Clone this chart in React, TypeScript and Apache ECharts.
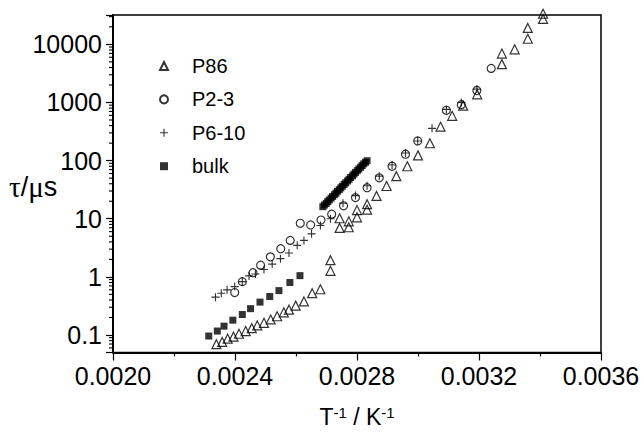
import React, { useEffect, useRef } from "react";
import * as echarts from "echarts";

// x = 1/T (K^-1), y = tau (µs)
const p86: number[][] = [
  [0.002339, 0.0695], [0.002358, 0.076], [0.002376, 0.0865], [0.002395, 0.0935],
  [0.002413, 0.105], [0.002435, 0.117], [0.002455, 0.131], [0.002473, 0.146],
  [0.002495, 0.162], [0.002517, 0.185], [0.002538, 0.21], [0.00256, 0.246],
  [0.002577, 0.273], [0.002599, 0.32], [0.002626, 0.378], [0.002653, 0.524],
  [0.00268, 0.612], [0.002713, 1.27], [0.002713, 1.94],
  [0.002743, 6.95], [0.002743, 10.2], [0.002773, 7.14], [0.002773, 9.03],
  [0.0028, 10.6], [0.0028, 14.1], [0.002833, 14.3], [0.002833, 17.8],
  [0.002864, 24.7], [0.002897, 36.6], [0.002929, 54], [0.002965, 80],
  [0.003, 123], [0.003039, 199], [0.003074, 383], [0.003112, 589],
  [0.003148, 883], [0.003194, 1384], [0.003275, 4570], [0.003275, 6950],
  [0.003317, 8220], [0.00336, 12500], [0.00336, 19200], [0.00341, 27400],
  [0.00341, 33600],
];

const p23: number[][] = [
  [0.002399, 0.538], [0.002424, 0.828], [0.002459, 1.18], [0.002484, 1.59],
  [0.002516, 2.21], [0.00255, 3.05], [0.002581, 4.24], [0.002614, 8.35],
  [0.002648, 7.82], [0.002682, 9.5], [0.002717, 12], [0.002756, 16.7],
  [0.002795, 23.1], [0.002833, 34.2], [0.002873, 50.6], [0.002915, 80],
  [0.002959, 129], [0.002999, 218], [0.003093, 734], [0.003142, 918],
  [0.003193, 1607], [0.00324, 3860],
];

const p610: number[][] = [
  [0.002336, 0.448], [0.002355, 0.524], [0.002374, 0.598], [0.002399, 0.681],
  [0.002424, 0.828], [0.002446, 1.04], [0.002467, 1.12], [0.002495, 1.34],
  [0.002522, 1.66], [0.002549, 2.06], [0.002577, 2.58], [0.002604, 3.49],
  [0.002626, 4.24], [0.002651, 5.5], [0.00268, 7.64], [0.002713, 10],
  [0.002754, 18.5], [0.002795, 25], [0.002833, 37], [0.002873, 54],
  [0.002915, 84], [0.002959, 135], [0.002999, 218], [0.003046, 359],
  [0.003093, 760], [0.003142, 1000], [0.003193, 1700],
];

const bulk: number[][] = [
  [0.002314, 0.096], [0.002342, 0.117], [0.002364, 0.142], [0.002393, 0.18],
  [0.002424, 0.225], [0.002451, 0.284], [0.002482, 0.368], [0.002514, 0.46],
  [0.002544, 0.58], [0.00258, 0.8], [0.002613, 1.05],
  [0.002688, 16.1], [0.002693, 17.2], [0.002699, 18.3], [0.002704, 19.7],
  [0.002709, 21.0], [0.002715, 22.6], [0.00272, 24.1], [0.002726, 25.9],
  [0.002731, 27.6], [0.002736, 29.7], [0.002742, 31.7], [0.002747, 34.0],
  [0.002752, 36.3], [0.002758, 39.0], [0.002763, 41.6], [0.002769, 44.7],
  [0.002774, 47.7], [0.002779, 51.2], [0.002785, 54.6], [0.00279, 58.6],
  [0.002795, 62.6], [0.002801, 67.1], [0.002806, 71.8], [0.002812, 76.9],
  [0.002817, 82.3], [0.002822, 88.1], [0.002828, 93.5], [0.002833, 99.5],
];

const seriesNames = ["P86", "P2-3", "P6-10", "bulk"];
const xMin = 0.002;
const xMax = 0.0036;
const xStep = 0.0004;
const yMin = 0.05;
const yMax = 32000;
const yMinorTicks: number[] = [
  0.06, 0.07, 0.08, 0.09,
  0.2, 0.3, 0.4, 0.5, 0.6, 0.7, 0.8, 0.9,
  2, 3, 4, 5, 6, 7, 8, 9,
  20, 30, 40, 50, 60, 70, 80, 90,
  200, 300, 400, 500, 600, 700, 800, 900,
  2000, 3000, 4000, 5000, 6000, 7000, 8000, 9000,
  20000, 30000,
];

const FONT = "'Liberation Sans', Arial, sans-serif";
const SERIF = "'Liberation Serif', 'DejaVu Serif', serif";
const PLUS = "path://M4.3,0H5.7V4.3H10V5.7H5.7V10H4.3V5.7H0V4.3H4.3Z";

export default function App() {
  const ref = useRef<HTMLDivElement>(null);
  useEffect(() => {
    if (!ref.current) return;
    const chart = echarts.init(ref.current, undefined, { renderer: "svg" });
    const hollow = { color: "rgba(0,0,0,0)", borderColor: "#000", borderWidth: 1.2 };
    chart.setOption({
      animation: false,
      backgroundColor: "#fff",
      grid: {
        left: 113, right: 43, top: 15, bottom: 78,
        show: true, borderColor: "#000", borderWidth: 1.5,
      },
      legend: {
        data: seriesNames,
        orient: "vertical",
        left: 154,
        top: 51,
        itemWidth: 8,
        itemHeight: 8,
        itemGap: 13.4,
        textStyle: {
          fontFamily: FONT, fontSize: 20, color: "#000",
          lineHeight: 20, padding: [0, 0, 0, 19],
        },
        selectedMode: false,
      },
      graphic: [
        {
          type: "text",
          left: 9,
          top: 172,
          style: {
            text: "{g|τ}/{g|μ}s",
            fontFamily: FONT,
            fontSize: 27,
            fill: "#000",
            rich: { g: { fontFamily: SERIF, fontSize: 29, fill: "#000" } },
          },
        },
      ],
      xAxis: {
        type: "value",
        min: xMin,
        max: xMax,
        interval: xStep,
        name: "T{sup|-1} / K{sup|-1}",
        nameLocation: "middle",
        nameGap: 52,
        nameTextStyle: {
          fontFamily: FONT, fontSize: 23, color: "#000",
          rich: {
            sup: { fontFamily: FONT, fontSize: 15, color: "#000", padding: [0, 0, 9, 0] },
          },
        },
        axisLine: { lineStyle: { color: "#000", width: 2 } },
        axisTick: { length: 8, lineStyle: { color: "#000", width: 1.2 } },
        minorTick: { show: true, splitNumber: 2, length: 4, lineStyle: { color: "#000", width: 1.2 } },
        axisLabel: {
          fontFamily: FONT, fontSize: 25, color: "#000", margin: 11,
          formatter: (v: number) => v.toFixed(4),
        },
        splitLine: { show: false },
      },
      yAxis: {
        type: "log",
        logBase: 10,
        min: yMin,
        max: yMax,
        axisLine: { lineStyle: { color: "#000", width: 2 } },
        axisTick: { length: 7, lineStyle: { color: "#000", width: 1.2 } },
        axisLabel: {
          fontFamily: FONT, fontSize: 25, color: "#000", margin: 11,
          formatter: (v: number) => {
            const l = Math.log10(v);
            if (Math.abs(l - Math.round(l)) > 1e-6) return "";
            return String(Number(v.toPrecision(6)));
          },
        },
        splitLine: { show: false },
      },
      series: [
        {
          name: "P86", type: "scatter", symbol: "triangle", symbolSize: 9,
          itemStyle: hollow, data: p86, clip: false, z: 3,
        },
        {
          name: "P2-3", type: "scatter", symbol: "circle", symbolSize: 8,
          itemStyle: hollow, data: p23, clip: false, z: 3,
        },
        {
          name: "P6-10", type: "scatter", symbol: PLUS, symbolSize: 8,
          itemStyle: { color: "#000" }, data: p610, clip: false, z: 4,
        },
        {
          name: "bulk", type: "scatter", symbol: "rect", symbolSize: 7,
          itemStyle: { color: "#000" }, data: bulk, clip: false, z: 4,
        },
        {
          name: "minorY", type: "custom", clip: false, silent: true,
          data: yMinorTicks.map((v) => [xMin, v]),
          encode: { x: 0, y: 1 },
          renderItem: (_p: any, api: any) => {
            const pt = api.coord([xMin, api.value(1)]);
            return {
              type: "line",
              shape: { x1: pt[0] - 4, y1: pt[1], x2: pt[0], y2: pt[1] },
              style: { stroke: "#000", lineWidth: 1.1 },
            };
          },
        },
      ],
    });
    return () => chart.dispose();
  }, []);
  return (
    <div
      ref={ref}
      style={{ position: "absolute", left: 0, top: 0, width: 644, height: 433 }}
    />
  );
}
